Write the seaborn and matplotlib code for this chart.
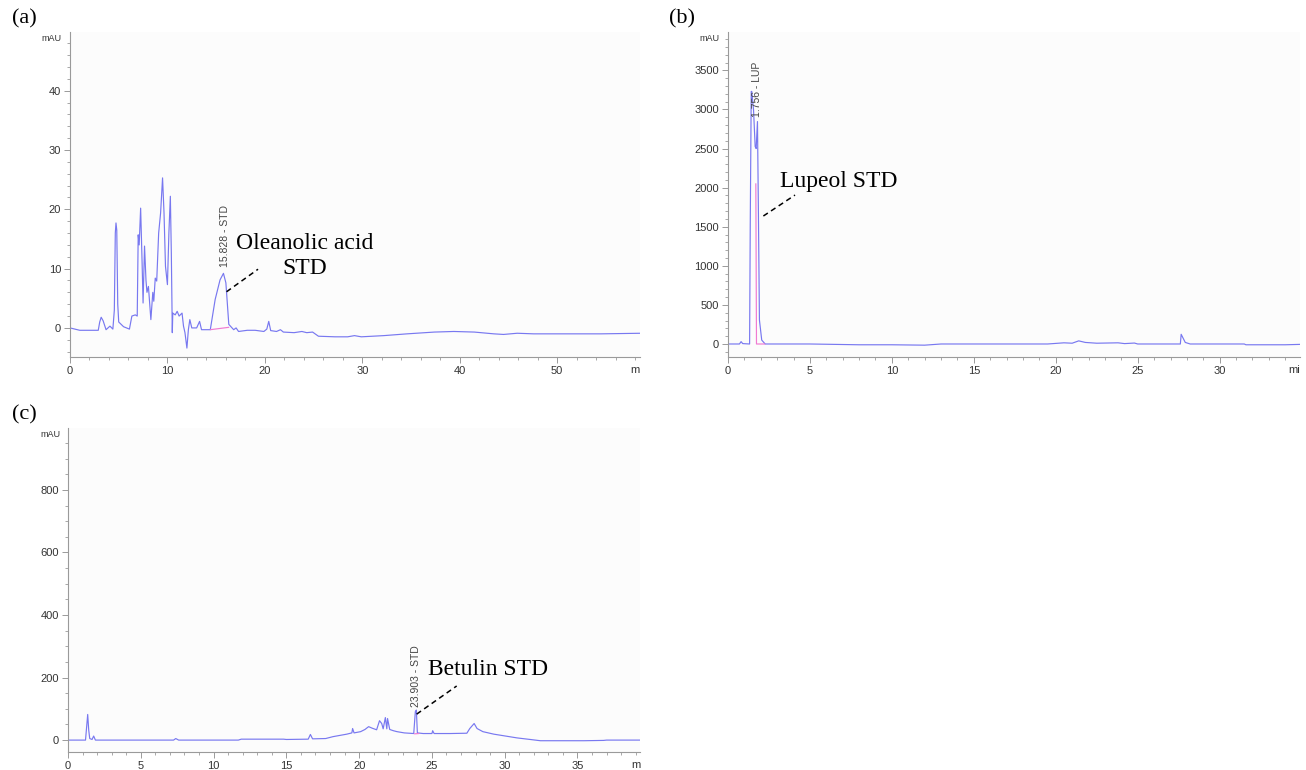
import numpy as np
import pandas as pd
import seaborn as sns
import matplotlib.pyplot as plt
from matplotlib.ticker import MultipleLocator

# chromatogram traces: (time in min, signal in mAU)
trace_a = [(0, 0), (1.0, -0.4), (2.9, -0.4), (3.05, 1.0), (3.2, 1.8), (3.4, 1.2), (3.7, -0.3),
           (4.1, 0.3), (4.4, -0.2), (4.55, 3.0), (4.65, 16.0), (4.72, 17.7), (4.8, 16.5),
           (4.9, 4.0), (5.0, 1.0), (5.5, 0.2), (6.1, -0.2), (6.35, 2.0), (6.7, 2.2), (6.9, 2.0),
           (7.0, 15.7), (7.1, 14.0), (7.25, 20.2), (7.4, 11.0), (7.5, 4.2), (7.65, 13.8),
           (7.8, 8.0), (7.9, 6.0), (8.05, 7.0), (8.3, 1.4), (8.5, 6.0), (8.6, 4.5), (8.75, 8.4),
           (8.9, 7.9), (9.1, 16.0), (9.3, 19.4), (9.5, 25.3), (9.65, 19.4), (9.8, 10.4),
           (10.0, 7.3), (10.15, 16.0), (10.3, 22.2), (10.4, 12.6), (10.5, -0.8), (10.55, 2.5),
           (10.8, 2.2), (11.0, 2.8), (11.2, 2.0), (11.5, 2.5), (11.65, 0.3), (11.8, -0.8),
           (12.0, -3.4), (12.15, -0.3), (12.3, 1.4), (12.5, 0.0), (13.0, 0.0), (13.3, 1.1),
           (13.5, -0.3), (14.4, -0.3), (14.9, 4.8), (15.4, 8.1), (15.75, 9.2), (16.0, 7.6),
           (16.3, 0.6), (16.8, -0.3), (17.05, 0.0), (17.3, -0.6), (18.2, -0.4), (19.0, -0.4),
           (19.9, -0.6), (20.2, -0.2), (20.4, 1.1), (20.6, -0.45), (21.2, -0.6), (21.6, -0.3),
           (21.9, -0.7), (23.0, -0.8), (23.8, -0.6), (24.3, -0.8), (24.9, -0.7), (25.5, -1.4),
           (27.2, -1.5), (28.5, -1.5), (29.2, -1.3), (29.9, -1.5), (32.2, -1.3), (34.6, -1.0),
           (37.4, -0.7), (39.4, -0.6), (41.5, -0.7), (43.5, -1.0), (44.5, -1.1), (45.9, -0.9),
           (47.6, -1.0), (51.0, -1.0), (54.5, -1.0), (58.6, -0.9)]
baseline_a = [(14.4, -0.3), (16.3, 0.1)]

trace_b = [(0, 0), (0.7, 0), (0.8, 30), (0.9, 5), (1.32, 0), (1.36, 1545), (1.42, 3230),
           (1.45, 3230), (1.56, 2995), (1.66, 2525), (1.72, 2500), (1.80, 2845), (1.86, 1630),
           (1.92, 307), (2.06, 50), (2.27, 0), (5.0, 0), (8.0, -10), (10.0, -10), (12.0, -15),
           (13.0, 0), (19.5, 0), (20.5, 15), (21.0, 10), (21.4, 40), (21.8, 20), (22.5, 10),
           (23.8, 15), (24.2, 5), (24.8, 12), (25.0, 0), (27.6, 0), (27.65, 124), (27.9, 20),
           (28.2, 0), (31.5, 0), (31.6, -10), (34.0, -10), (34.9, -5)]
baseline_b = [(1.70, 2050), (1.74, 0), (2.25, 0)]

trace_c = [(0, 0), (1.2, 0), (1.35, 82), (1.42, 32), (1.49, 5), (1.65, 2), (1.76, 13), (1.88, 0),
           (7.25, 0), (7.4, 5), (7.6, 0), (11.7, 0), (11.9, 3), (14.8, 3), (15.0, 2), (16.5, 3),
           (16.65, 18), (16.8, 4), (17.7, 5), (18.2, 11), (19.15, 19), (19.5, 23), (19.55, 37),
           (19.65, 23), (20.1, 27), (20.4, 34), (20.65, 43), (20.9, 38), (21.2, 33), (21.4, 62),
           (21.55, 53), (21.65, 36), (21.8, 72), (21.9, 36), (21.95, 69), (22.1, 34), (22.35, 30),
           (22.6, 27), (23.1, 23), (23.75, 21), (23.86, 91), (23.93, 96), (24.0, 23), (24.4, 21),
           (25.0, 21), (25.05, 30), (25.15, 21), (26.25, 21), (27.4, 22), (27.6, 37), (27.9, 53),
           (28.1, 37), (28.5, 27), (29.25, 19), (30.05, 13), (30.85, 7), (31.75, 2), (32.45, -2),
           (35.45, -2), (36.8, -1), (37.0, 0), (39.3, 0)]
baseline_c = [(23.8, 20), (24.1, 21)]

sns.set_theme(style="ticks")
plt.rcParams['font.family'] = ['Liberation Sans', 'DejaVu Sans']

line_col = '#7878f0'
pink = '#f07ad2'
axis_col = '#9a9a9a'
label_col = '#333333'


def draw(ax, trace, base, xlim, ylim, xmaj, xmin, ymaj, ymin, unit_end):
    df = pd.DataFrame(trace, columns=['t', 'mAU'])
    sns.lineplot(data=df, x='t', y='mAU', ax=ax, sort=False, estimator=None,
                 color=line_col, lw=0.85)
    bdf = pd.DataFrame(base, columns=['t', 'mAU'])
    sns.lineplot(data=bdf, x='t', y='mAU', ax=ax, sort=False, estimator=None,
                 color=pink, lw=0.85)
    ax.set_xlim(*xlim)
    ax.set_ylim(*ylim)
    ax.set_xlabel('')
    ax.set_ylabel('')
    ax.set_facecolor('#fcfcfc')
    for s in ['top', 'right']:
        ax.spines[s].set_visible(False)
    for s in ['left', 'bottom']:
        ax.spines[s].set_color(axis_col)
        ax.spines[s].set_linewidth(0.8)
    ax.xaxis.set_major_locator(MultipleLocator(xmaj))
    ax.xaxis.set_minor_locator(MultipleLocator(xmin))
    ax.yaxis.set_major_locator(MultipleLocator(ymaj))
    ax.yaxis.set_minor_locator(MultipleLocator(ymin))
    ax.tick_params(which='major', direction='out', length=4.5, width=0.7, color=axis_col,
                   labelcolor=label_col, labelsize=8, pad=2)
    ax.tick_params(which='minor', direction='out', length=2.2, width=0.6, color=axis_col)
    ax.text(-0.014, 0.995, 'mAU', transform=ax.transAxes, ha='right', va='top',
            fontsize=6.5, color=label_col)
    ax.text(1.0, -0.04, unit_end, transform=ax.transAxes, ha='right', va='center',
            fontsize=8, color=label_col)


fig = plt.figure(figsize=(13.06, 7.70), dpi=100)
ax_a = fig.add_axes([0.0536, 0.5364, 0.4364, 0.422])
ax_b = fig.add_axes([0.5574, 0.5364, 0.438, 0.422])
ax_c = fig.add_axes([0.0521, 0.0234, 0.438, 0.4208])

draw(ax_a, trace_a, baseline_a, (0, 58.5), (-4.9, 49.9), 10, 2, 10, 2, 'm')
draw(ax_b, trace_b, baseline_b, (0, 34.9), (-166, 3990), 5, 1, 500, 100, 'mi')
draw(ax_c, trace_c, baseline_c, (0, 39.3), (-38, 998), 5, 1, 200, 50, 'm')

serif = ['Liberation Serif', 'DejaVu Serif']
dash = dict(color='black', lw=1.1, ls=(0, (3.5, 2.5)))

# (a) oleanolic acid
ax_a.text(15.9, 10.3, '15.828 - STD', rotation=90, ha='center', va='bottom',
          fontsize=7.5, color='#444444')
ax_a.text(24.1, 12.2, 'Oleanolic acid\nSTD', ha='center', va='center', fontsize=17,
          family=serif, color='black', linespacing=1.25)
ax_a.plot([16.07, 19.3], [6.1, 9.9], **dash)

# (b) lupeol
ax_b.text(1.8, 2907, '1.756 - LUP', rotation=90, ha='center', va='bottom',
          fontsize=7.5, color='#444444')
ax_b.text(3.15, 2072, 'Lupeol STD', ha='left', va='center', fontsize=17,
          family=serif, color='black')
ax_b.plot([2.16, 4.09], [1637, 1905], **dash)

# (c) betulin
ax_c.text(23.88, 107, '23.903 - STD', rotation=90, ha='center', va='bottom',
          fontsize=7.5, color='#444444')
ax_c.text(24.7, 227, 'Betulin STD', ha='left', va='center', fontsize=17,
          family=serif, color='black')
ax_c.plot([23.95, 26.7], [83, 173], **dash)

for lab, x, y in [('(a)', 0.009, 0.975), ('(b)', 0.512, 0.975), ('(c)', 0.009, 0.461)]:
    fig.text(x, y, lab, fontsize=16, family=serif, color='black', ha='left', va='center')

fig.savefig('out.png', dpi=100, facecolor='white')
